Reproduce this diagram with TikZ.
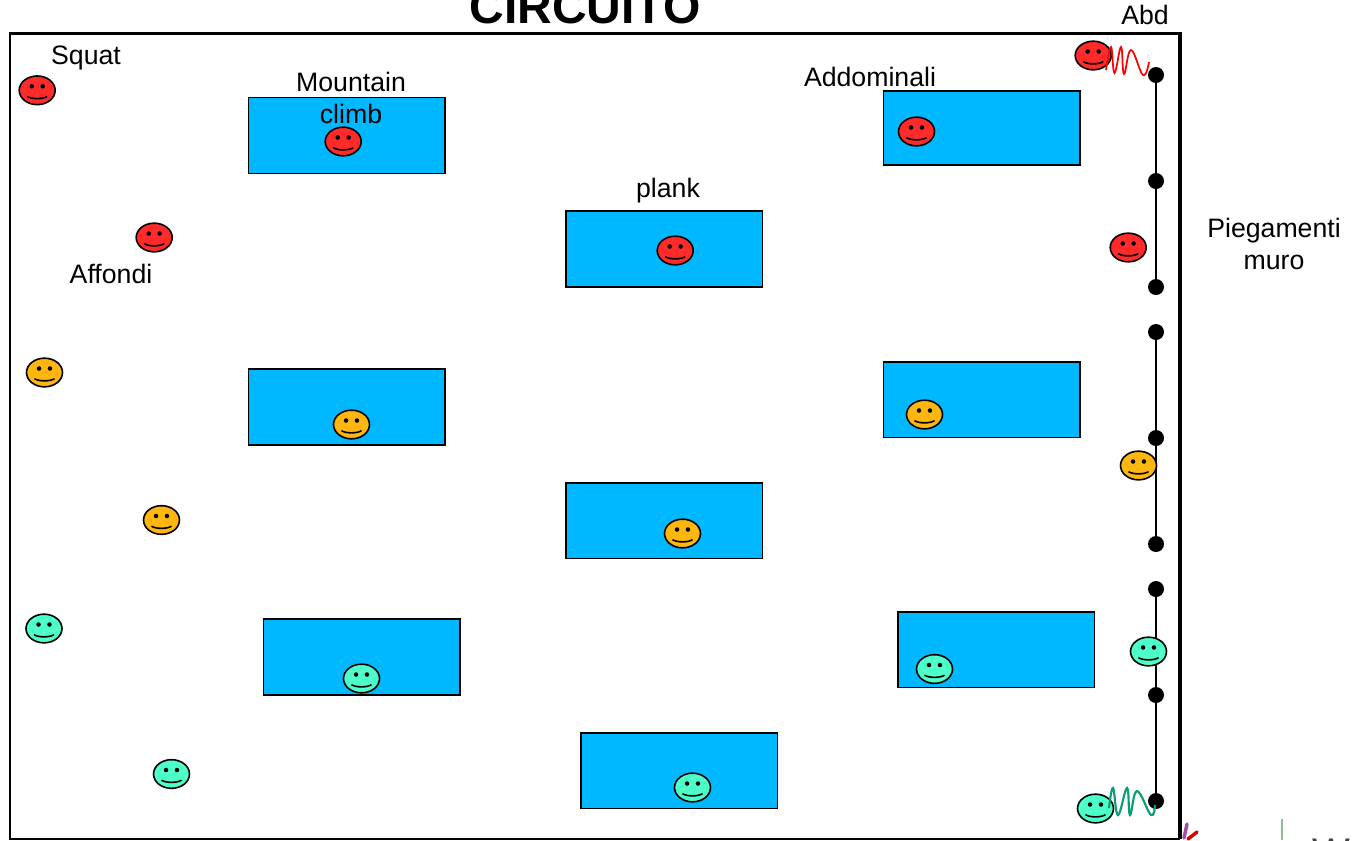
\documentclass[tikz,border=0pt]{standalone}
\usepackage{fontspec}
\setmainfont{Liberation Sans}
\usetikzlibrary{shapes.geometric}
\definecolor{boxblue}{HTML}{00B8FF}
\definecolor{facered}{HTML}{FF2B2B}
\definecolor{faceorange}{HTML}{FFB60F}
\definecolor{faceteal}{HTML}{4DFFC8}
\definecolor{springteal}{HTML}{0A9E78}
\tikzset{
  lbl/.style={inner sep=0pt,anchor=base,font=\fontsize{20}{24}\selectfont,text=black},
  station/.style={draw=black,line width=1.1pt,fill=boxblue,minimum width=147.3pt,minimum height=57pt,inner sep=0pt,outer sep=0pt,anchor=north west},
  peg/.style={circle,fill=black,minimum size=12pt,inner sep=0pt},
  rail/.style={line width=1.9pt,black},
  face/.style={ellipse,draw=black,line width=1.2pt,fill=#1,minimum width=27pt,minimum height=21.5pt,inner sep=0pt,
    path picture={
      \fill[black] (path picture bounding box.center)++(-4.1pt,3pt) circle (1.7pt);
      \fill[black] (path picture bounding box.center)++(4.1pt,3pt) circle (1.7pt);
      \draw[black,line width=1.2pt] (path picture bounding box.center)++(-7.5pt,-4.6pt) .. controls +(3pt,-2.2pt) and +(-3pt,-2.2pt) .. +(15pt,0pt);
    }},
  spring/.style={smooth,tension=0.7}
}
\begin{document}
\begin{tikzpicture}[x=0.75pt,y=-0.75pt]
\useasboundingbox (0,0) rectangle (1355,840);
\clip (0,0) rectangle (1355,840);
\fill[white] (0,0) rectangle (1355,840);
% frame
\coordinate (fa) at (10,33.5);
\coordinate (fb) at (1180,33.5);
\coordinate (fc) at (1180,839);
\coordinate (fd) at (10,839);
\draw[line width=1.7pt] (fc) -- (fd) -- (fa) -- (fb);
\draw[line width=3.4pt] (1180,32) -- (fc);
% stations
\node[station] (s1) at (248.5,97.5) {};
\node[station] (s2) at (566,211) {};
\node[station,minimum height=55.5pt] (s3) at (883.5,91) {};
\node[station] (s4) at (248.5,369) {};
\node[station,minimum height=56.5pt] (s5) at (566,483) {};
\node[station,minimum height=56.5pt] (s6) at (883.5,362) {};
\node[station] (s7) at (263.5,619) {};
\node[station,minimum height=56.5pt] (s8) at (581,733) {};
\node[station,minimum height=56.5pt] (s9) at (898,612) {};
% pegs and rails
\node[peg] (p1) at (1156,75) {};
\node[peg] (p2) at (1156,181) {};
\node[peg] (p3) at (1156,287) {};
\node[peg] (p4) at (1156,332) {};
\node[peg] (p5) at (1156,438) {};
\node[peg] (p6) at (1156,544) {};
\node[peg] (p7) at (1156,589) {};
\node[peg] (p8) at (1156,695) {};
\node[peg] (p9) at (1156,801) {};
\draw[rail] (p1) -- (p2);
\draw[rail] (p2) -- (p3);
\draw[rail] (p4) -- (p5);
\draw[rail] (p5) -- (p6);
\draw[rail] (p7) -- (p8);
\draw[rail] (p8) -- (p9);
% red faces
\node[face=facered] (r1) at (37.2,90.3) {};
\node[face=facered] (r2) at (154.2,237.5) {};
\node[face=facered] (r3) at (343.2,141.5) {};
\node[face=facered] (r4) at (675.2,250.5) {};
\node[face=facered] (r5) at (916.5,131.5) {};
\node[face=facered] (r6) at (1093.2,55.5) {};
\node[face=facered] (r7) at (1128.2,247.5) {};
% orange faces
\node[face=faceorange] (o1) at (44.5,372.5) {};
\node[face=faceorange] (o2) at (161.5,520) {};
\node[face=faceorange] (o3) at (351.5,424.5) {};
\node[face=faceorange] (o4) at (682.5,533.5) {};
\node[face=faceorange] (o5) at (924.5,414.5) {};
\node[face=faceorange] (o6) at (1138.5,465.5) {};
% teal faces
\node[face=faceteal] (t1) at (44,628.5) {};
\node[face=faceteal] (t2) at (171.5,774) {};
\node[face=faceteal] (t3) at (361.5,678.5) {};
\node[face=faceteal] (t4) at (692.5,787.5) {};
\node[face=faceteal] (t5) at (934.5,669) {};
\node[face=faceteal] (t6) at (1148.5,651.5) {};
\node[face=faceteal] (t7) at (1095.5,808.5) {};
% springs
\draw[spring,red,line width=1.3pt] plot coordinates {(1106,70) (1111,47) (1114.5,73) (1121,47) (1124,74) (1131,50) (1143,75) (1149,62)};
\draw[spring,springteal,line width=1.6pt] plot coordinates {(1109,808) (1113,788) (1118,815) (1127,788) (1130,815) (1137,791) (1151,815) (1155,805)};
% labels
\node[lbl,font=\fontsize{36}{40}\selectfont\bfseries,text=black] (title) at (585,23) {CIRCUITO};
\node[lbl] (squat) at (86,64) {Squat};
\node[lbl] (mount) at (351,91) {Mountain};
\node[lbl] (climb) at (351,123) {climb};
\node[lbl] (addom) at (870,86) {Addominali};
\node[lbl] (plank) at (668,197) {plank};
\node[lbl] (affon) at (111,283) {Affondi};
\node[lbl] (abd) at (1145,24) {Abd};
\node[lbl] (pieg) at (1274,237) {Piegamenti};
\node[lbl] (muro) at (1274,269) {muro};
% clipped logo remnants at the lower right
\draw[line width=2.6pt,color=violet!70,line cap=round] (1187,824) -- (1184,838);
\draw[line width=2.6pt,color=red!85!black,line cap=round] (1197,832) -- (1188,839);
\draw[line width=1pt,color=green!30!gray!70] (1282,819) -- (1282,840);
\node[lbl,font=\fontsize{30}{34}\selectfont,text=black!75] (logo) at (1331,866) {W};
\end{tikzpicture}
\end{document}
